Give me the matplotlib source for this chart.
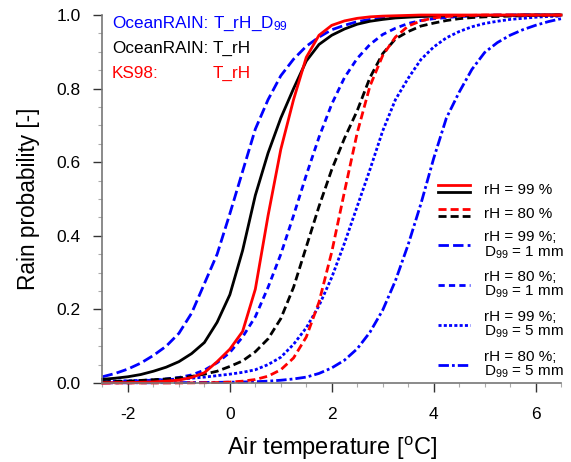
import matplotlib
matplotlib.use("Agg")
import matplotlib.pyplot as plt
from matplotlib.lines import Line2D
from matplotlib.legend_handler import HandlerBase
from matplotlib.ticker import MultipleLocator

plt.rcParams["font.family"] = "Liberation Sans"
plt.rcParams["mathtext.fontset"] = "custom"
plt.rcParams["mathtext.rm"] = "Liberation Sans"
plt.rcParams["mathtext.it"] = "Liberation Sans:italic"
plt.rcParams["axes.unicode_minus"] = False
plt.rcParams["lines.scale_dashes"] = False

# Air temperature grid [degC]
temp = [-2.5, -2.25, -2.0, -1.75, -1.5, -1.25, -1.0, -0.75, -0.5, -0.25,
        0.0, 0.25, 0.5, 0.75, 1.0, 1.25, 1.5, 1.75, 2.0, 2.25,
        2.5, 2.75, 3.0, 3.25, 3.5, 3.75, 4.0, 4.25, 4.5, 4.75,
        5.0, 5.25, 5.5, 5.75, 6.0, 6.25, 6.5]

# KS98, T_rH
ks98_99 = [0.0, 0.001, 0.001, 0.002, 0.003, 0.005, 0.008, 0.015, 0.028, 0.058,
           0.092, 0.14, 0.255, 0.455, 0.635, 0.77, 0.885, 0.945, 0.972, 0.984,
           0.991, 0.995, 0.997, 0.998, 0.999, 1.0, 1.0, 1.0, 1.0, 1.0,
           1.0, 1.0, 1.0, 1.0, 1.0, 1.0, 1.0]
ks98_80 = [0.0, 0.0, 0.0, 0.0001, 0.0001, 0.0001, 0.0002, 0.0004, 0.0007, 0.0013,
           0.0025, 0.005, 0.0095, 0.0185, 0.036, 0.068, 0.125, 0.22, 0.356, 0.52,
           0.68, 0.807, 0.89, 0.94, 0.97, 0.984, 0.992, 0.996, 0.998, 0.999,
           1.0, 1.0, 1.0, 1.0, 1.0, 1.0, 1.0]

# OceanRAIN, T_rH
or_99 = [0.010, 0.013, 0.017, 0.023, 0.032, 0.043, 0.058, 0.08, 0.11, 0.165,
         0.24, 0.36, 0.51, 0.625, 0.72, 0.80, 0.875, 0.92, 0.945, 0.962,
         0.975, 0.983, 0.988, 0.992, 0.994, 0.996, 0.997, 0.998, 0.998, 0.999,
         0.999, 0.999, 0.999, 1.0, 1.0, 1.0, 1.0]
or_80 = [0.003, 0.004, 0.005, 0.007, 0.009, 0.011, 0.014, 0.018, 0.024, 0.032,
         0.045, 0.06, 0.085, 0.12, 0.175, 0.26, 0.37, 0.48, 0.58, 0.665,
         0.74, 0.83, 0.895, 0.935, 0.955, 0.97, 0.978, 0.985, 0.99, 0.993,
         0.995, 0.996, 0.997, 0.998, 0.999, 0.999, 1.0]

# OceanRAIN, T_rH_D99
d1_99 = [0.017, 0.026, 0.038, 0.054, 0.075, 0.10, 0.135, 0.19, 0.27, 0.35,
         0.46, 0.575, 0.69, 0.77, 0.835, 0.88, 0.915, 0.94, 0.96, 0.972,
         0.982, 0.988, 0.992, 0.994, 0.996, 0.997, 0.998, 0.999, 0.999, 0.999,
         0.999, 1.0, 1.0, 1.0, 1.0, 1.0, 1.0]
d1_80 = [0.003, 0.004, 0.005, 0.006, 0.008, 0.011, 0.015, 0.022, 0.035, 0.055,
         0.083, 0.125, 0.18, 0.26, 0.35, 0.455, 0.565, 0.668, 0.758, 0.83,
         0.882, 0.92, 0.947, 0.964, 0.977, 0.985, 0.99, 0.993, 0.996, 0.997,
         0.998, 0.999, 0.999, 1.0, 1.0, 1.0, 1.0]
d5_99 = [0.004, 0.005, 0.006, 0.007, 0.008, 0.009, 0.011, 0.013, 0.016, 0.02,
         0.024, 0.029, 0.036, 0.05, 0.07, 0.105, 0.15, 0.21, 0.287, 0.38,
         0.48, 0.58, 0.685, 0.77, 0.828, 0.879, 0.913, 0.938, 0.955, 0.968,
         0.977, 0.983, 0.988, 0.991, 0.994, 0.996, 0.997]
d5_80 = [0.0003, 0.0004, 0.0005, 0.0006, 0.0007, 0.0009, 0.001, 0.0012, 0.0015, 0.0018,
         0.0022, 0.0028, 0.0035, 0.005, 0.0075, 0.011, 0.016, 0.026, 0.041, 0.062,
         0.093, 0.138, 0.198, 0.278, 0.376, 0.487, 0.61, 0.72, 0.79, 0.852,
         0.898, 0.925, 0.945, 0.96, 0.972, 0.982, 0.99]


class StackedLines(HandlerBase):
    """Draw a tuple of lines one above the other in one legend entry."""
    def __init__(self, gap, **kw):
        super().__init__(**kw)
        self.gap = gap

    def create_artists(self, legend, orig_handle, xdescent, ydescent,
                       width, height, fontsize, trans):
        arts = []
        n = len(orig_handle)
        for i, h in enumerate(orig_handle):
            y = height / 2 - ydescent + ((n - 1) / 2 - i) * self.gap
            ln = Line2D([-xdescent, width - xdescent], [y, y])
            ln.update_from(h)
            ln.set_transform(trans)
            arts.append(ln)
        return arts


fig = plt.figure(figsize=(5.71, 4.62), dpi=100)
ax = fig.add_axes([0.1795, 0.171, 0.803, 0.7965])

lw = 2.0
kw = dict(lw=lw, clip_on=False)
l_d1_99, = ax.plot(temp, d1_99, color="blue", dashes=(7.5, 3.0), **kw)
l_d1_80, = ax.plot(temp, d1_80, color="blue", dashes=(4.5, 3.0), **kw)
l_d5_99, = ax.plot(temp, d5_99, color="blue", dashes=(2.2, 1.6), **kw)
l_d5_80, = ax.plot(temp, d5_80, color="blue", dashes=(7.5, 2.2, 2.0, 2.2), **kw)
l_or_80, = ax.plot(temp, or_80, color="black", dashes=(5.8, 2.9), **kw)
l_or_99, = ax.plot(temp, or_99, color="black", **kw)
l_ks_80, = ax.plot(temp, ks98_80, color="red", dashes=(5.8, 2.9), **kw)
l_ks_99, = ax.plot(temp, ks98_99, color="red", **kw)

ax.set_xlim(-2.5, 6.5)
ax.set_ylim(0, 1)
ax.xaxis.set_major_locator(MultipleLocator(2))
ax.xaxis.set_minor_locator(MultipleLocator(0.5))
ax.yaxis.set_major_locator(MultipleLocator(0.2))
ax.yaxis.set_minor_locator(MultipleLocator(0.05))
ax.yaxis.set_major_formatter(matplotlib.ticker.FormatStrFormatter("%.1f"))

for s in ["top", "right"]:
    ax.spines[s].set_visible(False)
for s in ["left", "bottom"]:
    ax.spines[s].set_color("#777777")
    ax.spines[s].set_linewidth(1.2)

ax.tick_params(which="major", direction="out", length=6.5, width=1.0,
               color="#333333", labelsize=12.5)
ax.tick_params(which="minor", direction="out", length=3, width=0.8,
               color="#aaaaaa")
ax.tick_params(axis="x", which="major", pad=11)
ax.tick_params(axis="y", which="major", pad=9)

ax.set_xlabel(r"Air temperature [$^\mathregular{o}$C]", fontsize=17, labelpad=9)
ax.set_ylabel("Rain probability [-]", fontsize=16.3, labelpad=12)

# Source labels, top left
tx0, tx1 = 0.021, 0.241
fs = 12.3
ax.text(tx0, 0.976, "OceanRAIN:", color="blue", fontsize=fs, va="center", transform=ax.transAxes)
ax.text(tx1, 0.976, r"T_rH_D$_{99}$", color="blue", fontsize=fs, va="center", transform=ax.transAxes)
ax.text(tx0, 0.910, "OceanRAIN:", color="black", fontsize=fs, va="center", transform=ax.transAxes)
ax.text(tx1, 0.910, "T_rH", color="black", fontsize=fs, va="center", transform=ax.transAxes)
ax.text(tx0, 0.842, "KS98:", color="red", fontsize=fs, va="center", transform=ax.transAxes)
ax.text(tx1, 0.842, "T_rH", color="red", fontsize=fs, va="center", transform=ax.transAxes)

handles = [(l_ks_99, l_or_99), (l_ks_80, l_or_80), l_d1_99, l_d1_80, l_d5_99, l_d5_80]
labels = ["rH = 99 %", "rH = 80 %",
          "rH = 99 %;\nD$_{99}$ = 1 mm", "rH = 80 %;\nD$_{99}$ = 1 mm",
          "rH = 99 %;\nD$_{99}$ = 5 mm", "rH = 80 %;\nD$_{99}$ = 5 mm"]
leg = ax.legend(handles, labels, handler_map={tuple: StackedLines(gap=5)},
                loc="upper left", bbox_to_anchor=(0.732, 0.543), frameon=False,
                fontsize=11, handlelength=2.1, handletextpad=0.9,
                labelspacing=0.62, borderpad=0, borderaxespad=0)
for t in leg.get_texts():
    t.set_linespacing(1.0)

fig.savefig("out.png", dpi=100)
